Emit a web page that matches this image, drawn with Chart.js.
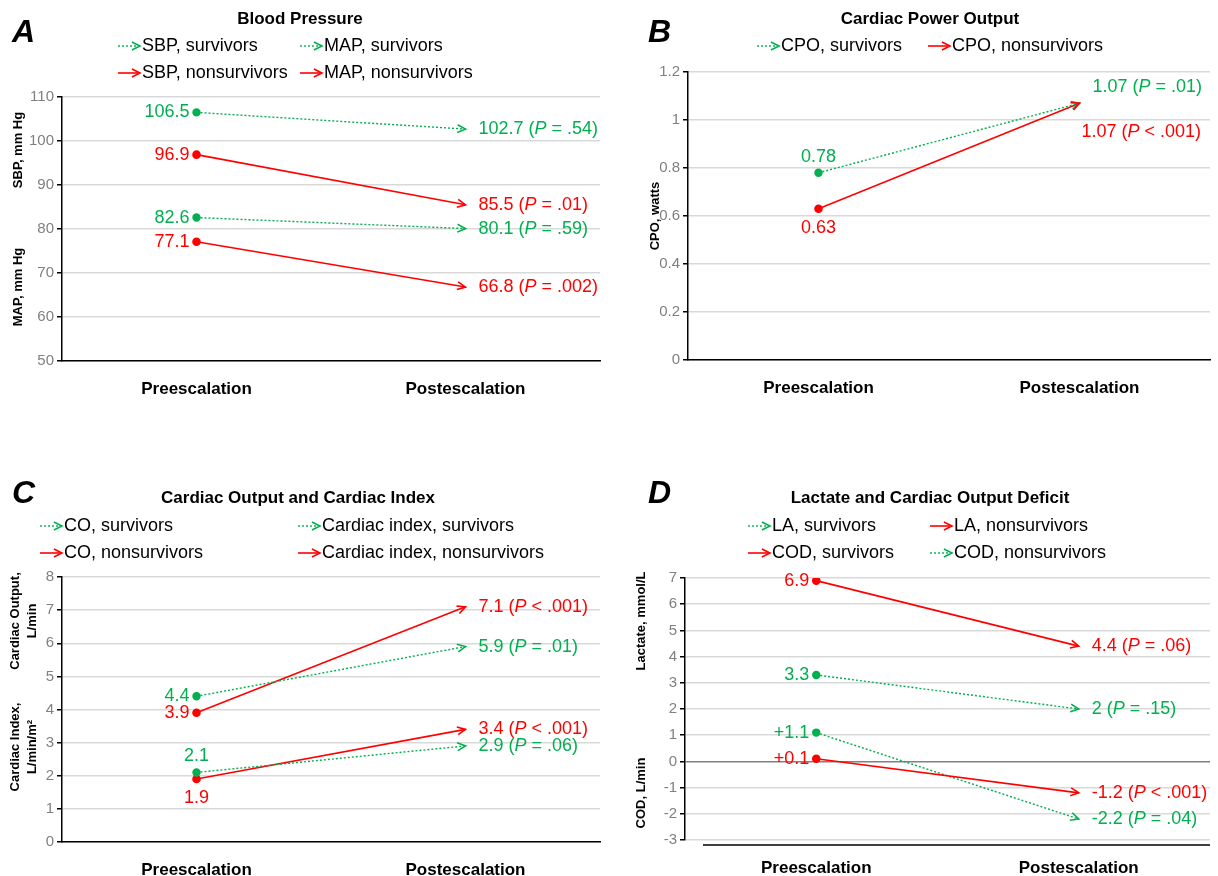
<!DOCTYPE html>
<html>
<head>
<meta charset="utf-8">
<script src="https://cdn.jsdelivr.net/npm/chart.js@4.4.1/dist/chart.umd.min.js"></script>
<style>
  body { margin: 0; background: #fff; }
  .panel { position: absolute; width: 609px; height: 438px; }
</style>
</head>
<body>
<div class="panel" style="left:0;top:0"><canvas id="cA" width="609" height="438"></canvas></div>
<div class="panel" style="left:609px;top:0"><canvas id="cB" width="609" height="438"></canvas></div>
<div class="panel" style="left:0;top:438px"><canvas id="cC" width="609" height="438"></canvas></div>
<div class="panel" style="left:609px;top:438px"><canvas id="cD" width="609" height="438"></canvas></div>
<script>
// donnees
const categories = ["Preescalation", "Postescalation"];

const sbpSurv = [106.5, 102.7];
const sbpNon = [96.9, 85.5];
const mapSurv = [82.6, 80.1];
const mapNon = [77.1, 66.8];
const pA = ["= .54", "= .01", "= .59", "= .002"];

const cpoSurv = [0.78, 1.07];
const cpoNon = [0.63, 1.07];
const pB = ["= .01", "< .001"];

const coSurv = [4.4, 5.9];
const coNon = [3.9, 7.1];
const ciSurv = [2.1, 2.9];
const ciNon = [1.9, 3.4];
const pC = ["= .01", "< .001", "= .06", "< .001"];

const laSurv = [3.3, 2];
const laNon = [6.9, 4.4];
const codSurv = [0.1, -1.2];
const codNon = [1.1, -2.2];
const pD = ["= .15", "= .06", "< .001", "= .04"];

const GREEN = "#00b050";
const RED = "#ff0000";
const FONT = "'Liberation Sans', Arial, sans-serif";

function ds(label, data, color, dotted, extra) {
    return Object.assign({
        label: label,
        data: data,
        borderColor: color,
        backgroundColor: color,
        borderWidth: dotted ? 1.4 : 1.6,
        borderDash: dotted ? [2, 2] : [],
        pointRadius: [3.5, 0],
        pointHoverRadius: 0,
        dotted: dotted
    }, extra);
}

function arrow(ctx, x0, y0, x1, y1, color) {
    const a = Math.atan2(y1 - y0, x1 - x0);
    ctx.save();
    ctx.strokeStyle = color;
    ctx.lineWidth = 1.6;
    ctx.setLineDash([]);
    ctx.beginPath();
    ctx.moveTo(x1 - 9 * Math.cos(a - 0.45), y1 - 9 * Math.sin(a - 0.45));
    ctx.lineTo(x1, y1);
    ctx.lineTo(x1 - 9 * Math.cos(a + 0.45), y1 - 9 * Math.sin(a + 0.45));
    ctx.stroke();
    ctx.restore();
}

function richText(ctx, x, y, value, p, color) {
    ctx.fillStyle = color;
    ctx.textAlign = "left";
    ctx.textBaseline = "middle";
    const parts = [[value + " (", ""], ["P", "italic "], [" " + p + ")", ""]];
    parts.forEach(pt => {
        ctx.font = pt[1] + "18px " + FONT;
        ctx.fillText(pt[0], x, y);
        x += ctx.measureText(pt[0]).width;
    });
}

const decor = {
    id: "decor",
    afterDatasetsDraw(chart) {
        const ctx = chart.ctx;
        chart.data.datasets.forEach((d, i) => {
            const m = chart.getDatasetMeta(i).data;
            const p0 = m[0], p1 = m[1];
            arrow(ctx, p0.x, p0.y, p1.x, p1.y, d.borderColor);
            // etiquette pre
            ctx.font = "18px " + FONT;
            ctx.fillStyle = d.borderColor;
            ctx.textBaseline = "middle";
            const txt = d.preText || String(d.data[0]);
            if (d.prePos === "above") {
                ctx.textAlign = "center"; ctx.fillText(txt, p0.x, p0.y - 16);
            } else if (d.prePos === "below") {
                ctx.textAlign = "center"; ctx.fillText(txt, p0.x, p0.y + 19);
            } else {
                ctx.textAlign = "right"; ctx.fillText(txt, p0.x - 7, p0.y);
            }
            richText(ctx, p1.x + (d.postDx || 13), p1.y + (d.postDy || 0), d.data[1], d.p, d.borderColor);
        });
    },
    afterDraw(chart) {
        const ctx = chart.ctx;
        const o = chart.options.plugins.decor;
        ctx.save();
        ctx.fillStyle = "#000";
        ctx.textBaseline = "alphabetic";
        ctx.font = "italic bold 32px " + FONT;
        ctx.textAlign = "left";
        ctx.fillText(o.letter, o.letterX, o.letterY);
        ctx.font = "bold 17px " + FONT;
        ctx.textAlign = "center";
        ctx.fillText(o.title, o.titleX, o.titleY);
        // legende
        o.legend.forEach(l => {
            const d = chart.data.datasets[l.i];
            ctx.strokeStyle = d.borderColor;
            ctx.lineWidth = d.dotted ? 1.4 : 1.6;
            ctx.setLineDash(d.dotted ? [2, 2] : []);
            ctx.beginPath();
            ctx.moveTo(l.x, l.y); ctx.lineTo(l.x + 20, l.y); ctx.stroke();
            arrow(ctx, l.x, l.y, l.x + 22, l.y, d.borderColor);
            ctx.fillStyle = "#000";
            ctx.font = "18px " + FONT;
            ctx.textAlign = "left";
            ctx.textBaseline = "middle";
            ctx.fillText(d.label, l.x + 24, l.y);
        });
        // titres des axes
        ctx.font = "bold 13px " + FONT;
        ctx.textAlign = "center";
        ctx.textBaseline = "middle";
        o.yTitles.forEach(t => {
            ctx.save();
            ctx.translate(t.x, t.y);
            ctx.rotate(-Math.PI / 2);
            ctx.fillStyle = "#000";
            t.lines.forEach((ln, k) => ctx.fillText(ln, 0, (k - (t.lines.length - 1) / 2) * 17));
            ctx.restore();
        });
        if (o.bottomLine) {
            ctx.strokeStyle = "#000";
            ctx.lineWidth = 1.5;
            ctx.setLineDash([]);
            ctx.beginPath();
            ctx.moveTo(o.bottomLine[0], o.bottomLine[2]);
            ctx.lineTo(o.bottomLine[1], o.bottomLine[2]);
            ctx.stroke();
        }
        ctx.restore();
    }
};

function panel(id, datasets, area, yScale, deco) {
    new Chart(document.getElementById(id), {
        type: "line",
        data: { labels: categories, datasets: datasets },
        plugins: [decor],
        options: {
            responsive: false,
            animation: false,
            events: [],
            layout: { padding: { top: area.t, right: 609 - area.r, left: 0, bottom: 0 } },
            plugins: { legend: { display: false }, tooltip: { enabled: false }, decor: deco },
            scales: {
                x: {
                    offset: true,
                    grid: { display: false },
                    border: { display: !deco.bottomLine, color: "#000", width: 1.5 },
                    ticks: { color: "#000", font: { family: FONT, size: 17, weight: "bold" }, padding: 10 },
                    afterFit: s => { s.height = 438 - area.b; }
                },
                y: {
                    min: yScale.min,
                    max: yScale.max,
                    border: { color: "#000", width: 1.5 },
                    grid: {
                        color: ctx => (ctx.tick && ctx.tick.value === 0 && yScale.min < 0) ? "#808080" : "#d9d9d9",
                        lineWidth: 1.5,
                        tickLength: 5,
                        tickColor: "#000"
                    },
                    ticks: { color: "#808080", font: { family: FONT, size: 15 }, padding: 3,
                             stepSize: yScale.step,
                             callback: v => String(Math.round(v * 100) / 100) },
                    afterFit: s => { s.width = area.l; }
                }
            }
        }
    });
}

panel("cA", [
    ds("SBP, survivors", sbpSurv, GREEN, true, { p: pA[0] }),
    ds("MAP, survivors", mapSurv, GREEN, true, { p: pA[2] }),
    ds("SBP, nonsurvivors", sbpNon, RED, false, { p: pA[1] }),
    ds("MAP, nonsurvivors", mapNon, RED, false, { p: pA[3] })
], { l: 62, t: 97, r: 600, b: 361 }, { min: 50, max: 110, step: 10 }, {
    letter: "A", letterX: 12, letterY: 42, title: "Blood Pressure", titleX: 300, titleY: 24,
    legend: [{ i: 0, x: 118, y: 46 }, { i: 1, x: 300, y: 46 }, { i: 2, x: 118, y: 73 }, { i: 3, x: 300, y: 73 }],
    yTitles: [{ x: 18, y: 150, lines: ["SBP, mm Hg"] }, { x: 18, y: 287, lines: ["MAP, mm Hg"] }]
});

panel("cB", [
    ds("CPO, survivors", cpoSurv, GREEN, true, { p: pB[0], prePos: "above", postDy: -16 }),
    ds("CPO, nonsurvivors", cpoNon, RED, false, { p: pB[1], prePos: "below", postDx: 2, postDy: 29 })
], { l: 79, t: 72, r: 601, b: 360 }, { min: 0, max: 1.2, step: 0.2 }, {
    letter: "B", letterX: 39, letterY: 42, title: "Cardiac Power Output", titleX: 321, titleY: 24,
    legend: [{ i: 0, x: 148, y: 46 }, { i: 1, x: 319, y: 46 }],
    yTitles: [{ x: 46, y: 216, lines: ["CPO, watts"] }]
});

panel("cC", [
    ds("CO, survivors", coSurv, GREEN, true, { p: pC[0] }),
    ds("Cardiac index, survivors", ciSurv, GREEN, true, { p: pC[2], prePos: "above" }),
    ds("CO, nonsurvivors", coNon, RED, false, { p: pC[1] }),
    ds("Cardiac index, nonsurvivors", ciNon, RED, false, { p: pC[3], prePos: "below" })
], { l: 62, t: 139, r: 600, b: 404 }, { min: 0, max: 8, step: 1 }, {
    letter: "C", letterX: 12, letterY: 65, title: "Cardiac Output and Cardiac Index", titleX: 298, titleY: 65,
    legend: [{ i: 0, x: 40, y: 88 }, { i: 1, x: 298, y: 88 }, { i: 2, x: 40, y: 115 }, { i: 3, x: 298, y: 115 }],
    yTitles: [{ x: 24, y: 183, lines: ["Cardiac Output,", "L/min"] }, { x: 24, y: 309, lines: ["Cardiac Index,", "L/min/m²"] }]
});

panel("cD", [
    ds("LA, survivors", laSurv, GREEN, true, { p: pD[0] }),
    ds("LA, nonsurvivors", laNon, RED, false, { p: pD[1] }),
    ds("COD, survivors", codSurv, RED, false, { p: pD[2], preText: "+0.1" }),
    ds("COD, nonsurvivors", codNon, GREEN, true, { p: pD[3], preText: "+1.1" })
], { l: 76, t: 140, r: 601, b: 402 }, { min: -3, max: 7, step: 1 }, {
    letter: "D", letterX: 39, letterY: 65, title: "Lactate and Cardiac Output Deficit", titleX: 321, titleY: 65,
    legend: [{ i: 0, x: 139, y: 88 }, { i: 1, x: 321, y: 88 }, { i: 2, x: 139, y: 115 }, { i: 3, x: 321, y: 115 }],
    yTitles: [{ x: 32, y: 183, lines: ["Lactate, mmol/L"] }, { x: 32, y: 355, lines: ["COD, L/min"] }],
    bottomLine: [94, 601, 407]
});
</script>
</body>
</html>
